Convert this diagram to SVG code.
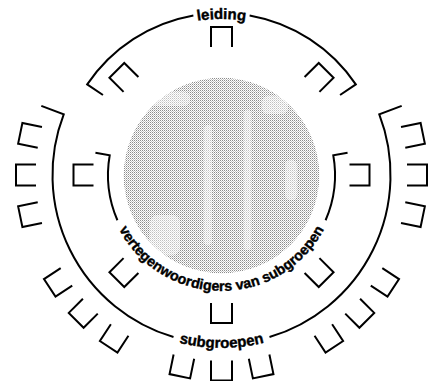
<svg xmlns="http://www.w3.org/2000/svg" xmlns:xlink="http://www.w3.org/1999/xlink" width="428" height="381" viewBox="0 0 428 381">
<style>
.ln{fill:none;stroke:#000;stroke-width:2;stroke-linejoin:miter}
.seat{fill:none;stroke:#000;stroke-width:2}
.lbl{font-family:"Liberation Sans",Arial,sans-serif;font-weight:700;font-size:15px;fill:#000;stroke:#000;stroke-width:0.4}
.wh{fill:#fff;opacity:0.45}
</style>
<defs>
<pattern id="dots" width="2" height="2" patternUnits="userSpaceOnUse">
<rect x="0" y="0" width="1" height="1" fill="#8c8c8c"/>
<rect x="1" y="1" width="1" height="1" fill="#c4c4c4"/>
</pattern>
<clipPath id="disc"><circle cx="221.5" cy="175.5" r="98"/></clipPath>
<path id="seat" d="M-10.5,-10 V10 H10.5 V-10"/>
<path id="tpInner" d="M107.26,195.14 A116,116 0 0 0 335.74,195.14"/>
<path id="tpSub" d="M71.68,261.5 A173,173 0 0 0 371.32,261.5"/>
<path id="tpLeid" d="M74.91,121.64 A156,156 0 0 1 368.09,121.64"/>
</defs>
<rect width="428" height="381" fill="#fff"/>
<g id="photo" clip-path="url(#disc)">
<circle cx="221.5" cy="175.5" r="98" fill="url(#dots)"/>
<rect class="wh" x="150" y="92" width="40" height="14" rx="6"/>
<rect class="wh" x="204" y="125" width="8" height="120" rx="4"/>
<rect class="wh" x="244" y="110" width="7" height="140" rx="3"/>
<rect class="wh" x="262" y="96" width="26" height="18" rx="6"/>
<rect class="wh" x="285" y="160" width="12" height="40" rx="5"/>
<rect class="wh" x="150" y="215" width="30" height="40" rx="8"/>
</g>
<g id="connectors">
<path class="ln" d="M102.95,95.04 L87.2,84.41 A162,162 0 0 1 193.37,15.46"/>
<path class="ln" d="M249.63,15.46 A162,162 0 0 1 355.8,84.41 L340.05,95.04"/>
<path class="ln" d="M41.32,105.83 L63.72,114.44 A169,169 0 0 0 173.5,337.04"/>
<path class="ln" d="M269.5,337.04 A169,169 0 0 0 379.28,114.44 L401.68,105.83"/>
<path class="ln" d="M95.44,152.77 L109.72,155.29 A113.5,113.5 0 0 0 117.41,220.26"/>
<path class="ln" d="M325.59,220.26 A113.5,113.5 0 0 0 333.28,155.29 L347.56,152.77"/>
</g>
<g id="labels">
<text class="lbl" text-anchor="middle"><textPath xlink:href="#tpLeid" href="#tpLeid" startOffset="50%">leiding</textPath></text>
<text class="lbl" text-anchor="middle"><textPath xlink:href="#tpSub" href="#tpSub" startOffset="50%">subgroepen</textPath></text>
<text class="lbl" text-anchor="middle" style="font-size:14.3px"><textPath xlink:href="#tpInner" href="#tpInner" startOffset="50%">vertegenwoordigers van subgroepen</textPath></text>
</g>
<g id="inner-seats" class="seat" transform="translate(221.5 175)">
<use href="#seat" transform="rotate(-90) translate(0 138)"/>
<use href="#seat" transform="rotate(-45) translate(0 138)"/>
<use href="#seat" transform="rotate(0) translate(0 138)"/>
<use href="#seat" transform="rotate(45) translate(0 138)"/>
<use href="#seat" transform="rotate(90) translate(0 138)"/>
<use href="#seat" transform="rotate(135) translate(0 138)"/>
<use href="#seat" transform="rotate(180) translate(0 138)"/>
<use href="#seat" transform="rotate(225) translate(0 138)"/>
</g>
<g id="outer-seats" class="seat" transform="translate(221.5 175)">
<use href="#seat" transform="rotate(-101.7) translate(0 195.5)"/>
<use href="#seat" transform="rotate(-90) translate(0 195.5)"/>
<use href="#seat" transform="rotate(-78.3) translate(0 195.5)"/>
<use href="#seat" transform="rotate(-56.7) translate(0 195.5)"/>
<use href="#seat" transform="rotate(-45) translate(0 195.5)"/>
<use href="#seat" transform="rotate(-33.3) translate(0 195.5)"/>
<use href="#seat" transform="rotate(-11.7) translate(0 195.5)"/>
<use href="#seat" transform="rotate(0) translate(0 195.5)"/>
<use href="#seat" transform="rotate(11.7) translate(0 195.5)"/>
<use href="#seat" transform="rotate(33.3) translate(0 195.5)"/>
<use href="#seat" transform="rotate(45) translate(0 195.5)"/>
<use href="#seat" transform="rotate(56.7) translate(0 195.5)"/>
<use href="#seat" transform="rotate(78.3) translate(0 195.5)"/>
<use href="#seat" transform="rotate(90) translate(0 195.5)"/>
<use href="#seat" transform="rotate(101.7) translate(0 195.5)"/>
</g>
</svg>
